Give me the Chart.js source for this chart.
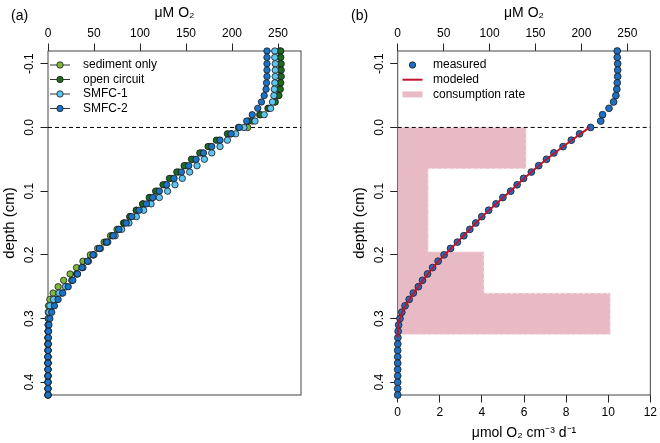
<!DOCTYPE html>
<html>
<head>
<meta charset="utf-8">
<script src="https://cdn.jsdelivr.net/npm/chart.js@4.4.0/dist/chart.umd.min.js"></script>
<style>
  html, body { margin: 0; padding: 0; background: #fff; }
  .wrap { display: flex; width: 660px; height: 443px; }
  canvas { display: block; }
</style>
</head>
<body>
<div class="wrap">
  <canvas id="chartA" width="330" height="443"></canvas>
  <canvas id="chartB" width="330" height="443"></canvas>
</div>
<script>
// depth of each profile point (cm), -0.12 at top to 0.42 at bottom
const depths = [
  -0.12, -0.11, -0.10, -0.09, -0.08, -0.07, -0.06, -0.05, -0.04, -0.03, -0.02, -0.01, 0.00,
  0.01, 0.02, 0.03, 0.04, 0.05, 0.06, 0.07, 0.08, 0.09, 0.10,
  0.11, 0.12, 0.13, 0.14, 0.15, 0.16, 0.17, 0.18, 0.19, 0.20,
  0.21, 0.22, 0.23, 0.24, 0.25, 0.26, 0.27, 0.28, 0.29, 0.30,
  0.31, 0.32, 0.33, 0.34, 0.35, 0.36, 0.37, 0.38, 0.39, 0.40, 0.41, 0.42
];

// panel (a): uM O2 profiles
const sedimentOnly = [
  252, 252, 252.5, 252.5, 252.5, 252, 251.5, 250, 246, 239, 230, 222, 217,
  199, 186, 176, 167, 158, 150, 142, 134, 127, 119,
  111, 103, 96, 89, 82, 75, 68, 61, 54, 46,
  38, 31, 24, 17, 11, 5.5, 2, 0.6, 0.3, 0.2,
  0.1, 0.1, 0, 0, 0, 0, 0, 0, 0, 0, 0, 0
];
const openCircuit = [
  253, 253, 253.5, 253.5, 253.5, 253, 252.5, 251, 247, 240, 231, 218, 207,
  195, 183, 174, 165, 156, 148, 140, 132, 125, 117,
  110, 103, 96, 89, 83, 77, 70, 63, 56, 49,
  43, 37, 31, 26, 20, 15, 9, 5, 2, 1,
  0.5, 0.2, 0, 0, 0, 0, 0, 0, 0, 0, 0, 0
];
const smfc1 = [
  246.5, 246.5, 247, 247, 247, 246.5, 246, 245.5, 244, 242, 235, 225, 213,
  204, 195, 187, 178, 170, 162, 154, 146, 138, 130,
  121, 112, 104, 96, 88, 80, 73, 65, 57, 50,
  44, 38, 32, 26, 19, 12, 6, 2, 1, 0.5,
  0.3, 0.2, 0, 0, 0, 0, 0, 0, 0, 0, 0, 0
];
const smfc2 = [
  238, 238, 238, 238, 238, 237.5, 237, 235, 232, 228, 222, 216, 208,
  199, 187, 178, 169, 161, 153, 145, 137, 129, 121,
  114, 107, 99, 91, 85, 77, 71, 64, 56, 49,
  43, 37, 32, 27, 22, 16, 11, 7, 4, 2,
  1, 0.5, 0.3, 0.2, 0.1, 0, 0, 0, 0, 0, 0, 0
];

// panel (b): measured and modeled profile, consumption rate layers
const measured = [
  239, 239, 239.5, 239.5, 239.5, 239, 238.5, 237.5, 235, 230, 223, 221, 210,
  198, 189, 180, 170, 162, 153.5, 145.5, 137, 130, 123,
  114.5, 107, 99, 91.5, 85, 78.5, 72, 65, 57.5, 50.5,
  44, 38, 32.5, 27, 22.5, 17, 12.5, 8, 4.5, 2.5,
  1, 0.5, 0.2, 0.1, 0, 0, 0, 0, 0, 0, 0, 0
];
const modelDepths = [
  0.00, 0.01, 0.02, 0.03, 0.04, 0.05, 0.06, 0.07, 0.08, 0.09, 0.10,
  0.11, 0.12, 0.13, 0.14, 0.15, 0.16, 0.17, 0.18, 0.19, 0.20,
  0.21, 0.22, 0.23, 0.24, 0.25, 0.26, 0.27, 0.28, 0.29, 0.30,
  0.31, 0.32, 0.33
];
const modeled = [
  209, 199, 189.5, 180, 171, 162, 153.5, 145.5, 137.5, 130, 122.5,
  114.8, 107, 99.4, 92, 85, 78.4, 71.8, 65, 58, 51,
  44.4, 38.4, 32.8, 27.5, 22.4, 17.5, 12.8, 8.4, 4.8, 2.2,
  0.8, 0.2, 0
];
const layerTop = [0, 0.065, 0.195, 0.26];
const layerBottom = [0.065, 0.195, 0.26, 0.325];
const layerRate = [6.1, 1.45, 4.1, 10.1];

const surfaceDepth = 0;
const oxygenTicks = [0, 50, 100, 150, 200, 250];
const depthTicks = [-0.1, 0, 0.1, 0.2, 0.3, 0.4];
const rateTicks = [0, 2, 4, 6, 8, 10, 12];

const FONT = "'Liberation Sans', Arial, sans-serif";
Chart.defaults.font.family = FONT;
Chart.defaults.font.size = 12;
Chart.defaults.color = '#000';

const colors = {
  sediment: '#7cb83c',
  open: '#1d6b1d',
  smfc1: '#5cc4ef',
  smfc2: '#1b72c6',
  measured: '#1f6fc0',
  model: '#c0132f',
  rateFill: 'rgb(231, 186, 197)',
  rateEdge: 'rgb(250, 232, 237)'
};

function profile(values, ys) {
  return values.map((v, i) => ({ x: v, y: ys[i] }));
}

function pointSeries(label, values, color, order) {
  return {
    label: label,
    data: profile(values, depths),
    backgroundColor: color,
    borderColor: '#1a1a1a',
    borderWidth: 0.8,
    pointRadius: 3.2,
    showLine: false,
    clip: false,
    order: order
  };
}

function surfaceLine(maxX, order) {
  return {
    data: [{ x: 0, y: surfaceDepth }, { x: maxX, y: surfaceDepth }],
    showLine: true,
    borderColor: '#000',
    borderWidth: 1,
    borderDash: [4, 3],
    pointRadius: 0,
    order: order
  };
}

function rateSteps() {
  const pts = [{ x: 0, y: layerTop[0] }];
  layerRate.forEach((r, i) => {
    pts.push({ x: r, y: layerTop[i] });
    pts.push({ x: r, y: layerBottom[i] });
  });
  pts.push({ x: 0, y: layerBottom[layerBottom.length - 1] });
  return pts;
}

function depthAxis(titlePad) {
  return {
    type: 'linear',
    position: 'left',
    reverse: true,
    min: -0.12,
    max: 0.42,
    afterBuildTicks: (s) => { s.ticks = depthTicks.map(v => ({ value: v })); },
    afterFit: (s) => { s.width = 48; },
    grid: { display: true, drawOnChartArea: false, drawTicks: true, tickLength: 7.5, color: '#222' },
    border: { display: false },
    ticks: {
      autoSkip: false, minRotation: 90, maxRotation: 90, crossAlign: 'center', padding: 0,
      font: { size: 12 },
      callback: (v) => v.toFixed(1)
    },
    title: { display: true, text: 'depth (cm)', font: { size: 15 }, padding: { top: titlePad, bottom: 0 } }
  };
}

function oxygenAxis() {
  return {
    type: 'linear',
    position: 'top',
    min: 0,
    max: 275,
    afterBuildTicks: (s) => { s.ticks = oxygenTicks.map(v => ({ value: v })); },
    afterFit: (s) => { s.height = 51; },
    grid: { display: true, drawOnChartArea: false, drawTicks: true, tickLength: 7.5, color: '#222' },
    border: { display: false },
    ticks: { autoSkip: false, maxRotation: 0, padding: 3, font: { size: 12 } },
    title: { display: true, text: 'μM O₂', font: { size: 14 }, padding: { top: 5, bottom: 0 } }
  };
}

// plot box, legend and panel tag
const framePlugin = {
  id: 'frame',
  beforeDatasetsDraw(chart) {
    const a = chart.chartArea;
    const ctx = chart.ctx;
    ctx.save();
    ctx.strokeStyle = '#444';
    ctx.lineWidth = 1;
    ctx.strokeRect(a.left, a.top, a.right - a.left, a.bottom - a.top);
    ctx.restore();
  }
};

const legendPlugin = {
  id: 'keys',
  afterDraw(chart, args, opts) {
    const ctx = chart.ctx;
    ctx.save();
    ctx.textBaseline = 'middle';
    ctx.fillStyle = '#000';
    ctx.font = '14px ' + FONT;
    ctx.fillText(opts.tag, opts.tagX, 16);
    ctx.font = '12px ' + FONT;
    opts.items.forEach((it, i) => {
      const y = opts.y0 + i * opts.dy;
      const cx = opts.keyX;
      if (it.line) {
        ctx.strokeStyle = it.line;
        ctx.lineWidth = it.lw || 1;
        ctx.beginPath();
        ctx.moveTo(cx - 10, y);
        ctx.lineTo(cx + 10, y);
        ctx.stroke();
      }
      if (it.point) {
        ctx.fillStyle = it.point;
        ctx.strokeStyle = '#1a1a1a';
        ctx.lineWidth = 0.8;
        ctx.beginPath();
        ctx.arc(cx, y, 3.2, 0, Math.PI * 2);
        ctx.fill();
        ctx.stroke();
      }
      ctx.fillStyle = '#000';
      ctx.fillText(it.label, opts.textX, y);
    });
    ctx.restore();
  }
};

new Chart(document.getElementById('chartA'), {
  type: 'scatter',
  data: {
    datasets: [
      surfaceLine(275, 5),
      pointSeries('sediment only', sedimentOnly, colors.sediment, 4),
      pointSeries('open circuit', openCircuit, colors.open, 3),
      pointSeries('SMFC-1', smfc1, colors.smfc1, 2),
      pointSeries('SMFC-2', smfc2, colors.smfc2, 1)
    ]
  },
  options: {
    responsive: false,
    animation: false,
    layout: { padding: { left: 0, right: 29, top: 0, bottom: 48 } },
    plugins: {
      legend: { display: false },
      tooltip: { enabled: false },
      keys: {
        tag: '(a)', tagX: 11,
        keyX: 60, textX: 83, y0: 65, dy: 14.5,
        items: [
          { label: 'sediment only', line: '#333', point: colors.sediment },
          { label: 'open circuit', line: '#333', point: colors.open },
          { label: 'SMFC-1', line: '#333', point: colors.smfc1 },
          { label: 'SMFC-2', line: '#333', point: colors.smfc2 }
        ]
      }
    },
    scales: {
      x: oxygenAxis(),
      y: depthAxis(1)
    }
  },
  plugins: [framePlugin, legendPlugin]
});

new Chart(document.getElementById('chartB'), {
  type: 'scatter',
  data: {
    datasets: [
      {
        label: 'consumption rate',
        data: rateSteps(),
        xAxisID: 'x2',
        showLine: true,
        fill: 'shape',
        backgroundColor: colors.rateFill,
        borderColor: colors.rateEdge,
        borderWidth: 1.2,
        borderDash: [3, 3],
        pointRadius: 0,
        order: 4
      },
      surfaceLine(275, 3),
      Object.assign(pointSeries('measured', measured, colors.measured, 2), { pointRadius: 3.4 }),
      {
        label: 'modeled',
        data: profile(modeled, modelDepths),
        showLine: true,
        borderColor: colors.model,
        borderWidth: 2,
        pointRadius: 0,
        clip: false,
        order: 1
      }
    ]
  },
  options: {
    responsive: false,
    animation: false,
    layout: { padding: { left: 19.7, right: 9, top: 0, bottom: 0 } },
    plugins: {
      legend: { display: false },
      tooltip: { enabled: false },
      keys: {
        tag: '(b)', tagX: 21,
        keyX: 82.5, textX: 103, y0: 65, dy: 14.7,
        items: [
          { label: 'measured', point: colors.measured },
          { label: 'modeled', line: colors.model, lw: 2 },
          { label: 'consumption rate', line: colors.rateFill, lw: 6 }
        ]
      }
    },
    scales: {
      x: oxygenAxis(),
      x2: {
        type: 'linear',
        position: 'bottom',
        min: 0,
        max: 12,
        afterBuildTicks: (s) => { s.ticks = rateTicks.map(v => ({ value: v })); },
        afterFit: (s) => { s.height = 48; },
        grid: { display: true, drawOnChartArea: false, drawTicks: true, tickLength: 7.5, color: '#222' },
        border: { display: false },
        ticks: { autoSkip: false, maxRotation: 0, padding: 3, font: { size: 12 } },
        title: { display: true, text: 'μmol O₂ cm⁻³ d⁻¹', font: { size: 14 }, padding: { top: 0, bottom: 1.5 } }
      },
      y: depthAxis(1)
    }
  },
  plugins: [framePlugin, legendPlugin]
});
</script>
</body>
</html>
